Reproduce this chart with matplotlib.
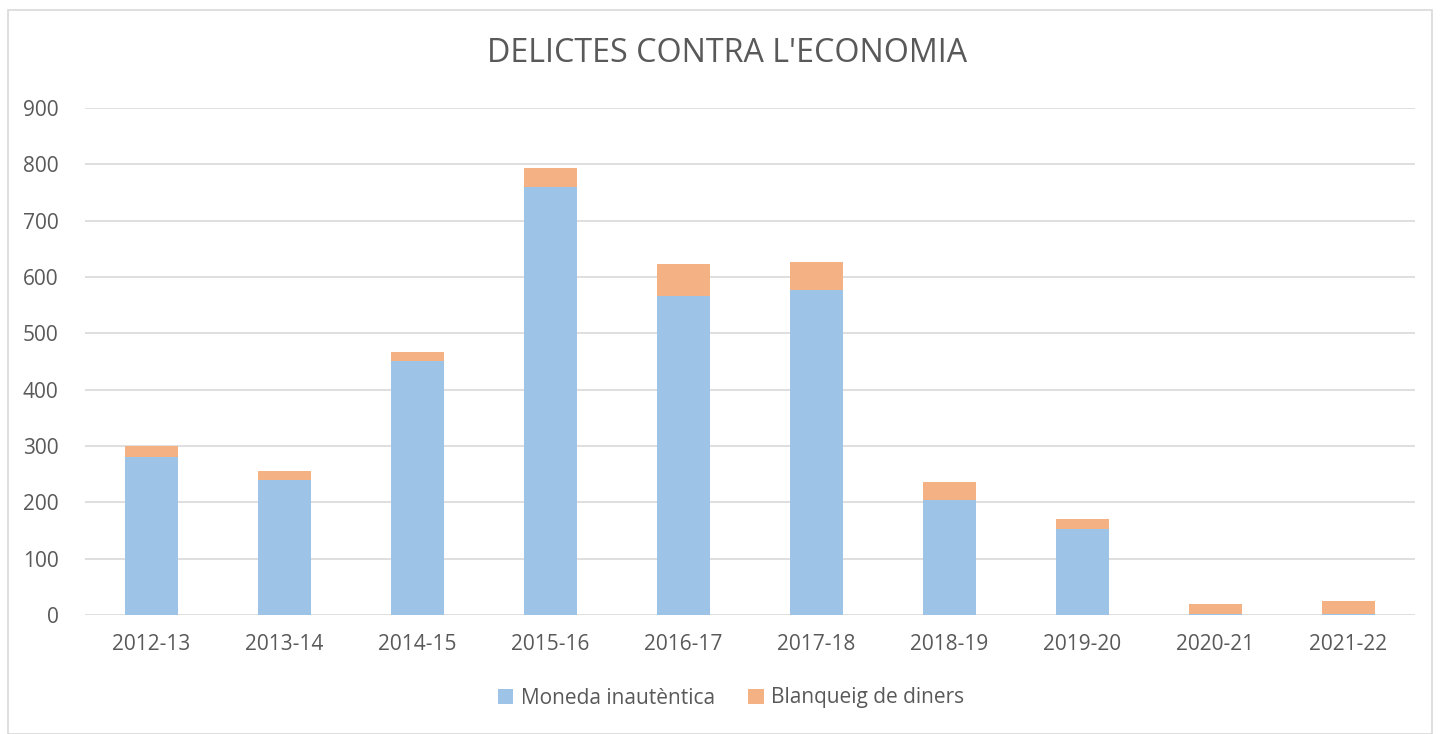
import numpy as np
import matplotlib.pyplot as plt
from matplotlib.patches import Rectangle

years = ["2012-13", "2013-14", "2014-15", "2015-16", "2016-17",
         "2017-18", "2018-19", "2019-20", "2020-21", "2021-22"]
moneda = [280, 239, 451, 760, 567, 577, 204, 153, 1, 1]
blanqueig = [20, 17, 15, 33, 56, 50, 32, 18, 18, 23]

blue = "#9DC3E6"
orange = "#F4B183"
txt = "#595959"
grid = "#D9D9D9"

plt.rcParams['font.family'] = ['Open Sans', 'DejaVu Sans']

fig = plt.figure(figsize=(14.4, 7.34), dpi=100)
ax = fig.add_axes([85 / 1440, 1 - 615 / 734, (1415 - 85) / 1440, (615 - 108) / 734])

x = np.arange(len(years))
ax.bar(x, moneda, width=0.405, color=blue, label="Moneda inautèntica", zorder=3)
ax.bar(x, blanqueig, width=0.405, bottom=moneda, color=orange, label="Blanqueig de diners", zorder=3)

ax.set_xlim(-0.5, len(years) - 0.5)
ax.set_ylim(0, 900)
ax.set_yticks(range(0, 901, 100))
ax.set_xticks(x)
ax.set_xticklabels(years)
ax.tick_params(axis="both", length=0, labelsize=15, colors=txt)
ax.tick_params(axis="y", pad=19)
ax.tick_params(axis="x", pad=14)
ax.yaxis.grid(True, color=grid, linewidth=1.2, zorder=0)
for s in ax.spines.values():
    s.set_visible(False)

fig.text(727 / 1440, 1 - 54 / 734, "DELICTES CONTRA L'ECONOMIA", ha="center", va="center",
         fontsize=23.2, color=txt)

fig.legend(*ax.get_legend_handles_labels(), loc="center",
           bbox_to_anchor=(731 / 1440, 1 - 698 / 734), ncol=2,
           frameon=False, fontsize=15, labelcolor=txt, handlelength=0.75,
           handleheight=0.75, columnspacing=1.6, handletextpad=0.35)

fig.patches.append(Rectangle((8 / 1440, 0), (1432 - 8) / 1440, 1 - 10 / 734,
                             transform=fig.transFigure, fill=False,
                             edgecolor=grid, linewidth=1.2))

fig.savefig("out.png", dpi=100)
